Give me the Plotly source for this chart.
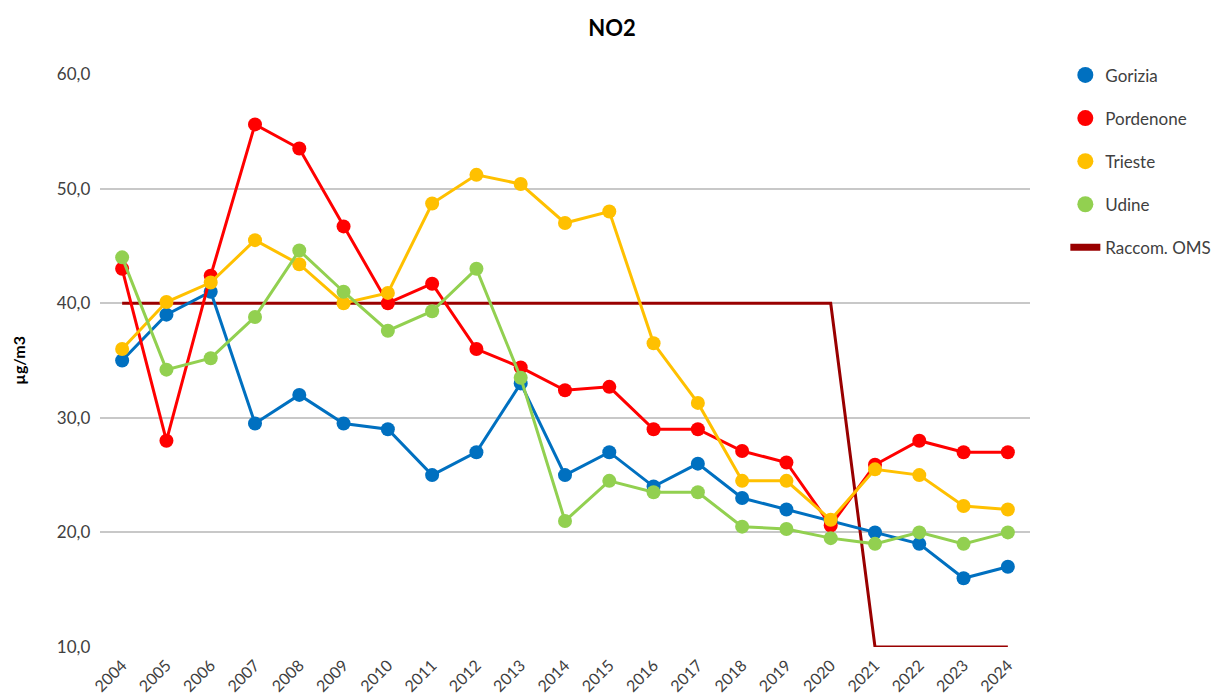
import plotly.graph_objects as go

years = [str(y) for y in range(2004, 2025)]
gorizia = [35, 39, 41, 29.5, 32, 29.5, 29, 25, 27, 33, 25, 27, 24, 26, 23, 22, 21, 20, 19, 16, 17]
pordenone = [43, 28, 42.4, 55.6, 53.5, 46.7, 40, 41.7, 36, 34.4, 32.4, 32.7, 29, 29, 27.1, 26.1, 20.6, 25.9, 28, 27, 27]
trieste = [36, 40.1, 41.8, 45.5, 43.4, 40, 40.9, 48.7, 51.2, 50.4, 47, 48, 36.5, 31.3, 24.5, 24.5, 21.1, 25.5, 25, 22.3, 22]
udine = [44, 34.2, 35.2, 38.8, 44.6, 41, 37.6, 39.3, 43, 33.5, 21, 24.5, 23.5, 23.5, 20.5, 20.3, 19.5, 19, 20, 19, 20]
oms = [40] * 17 + [10] * 4

series = [
    ("Gorizia", gorizia, "#0070C0"),
    ("Pordenone", pordenone, "#FF0000"),
    ("Trieste", trieste, "#FFC000"),
    ("Udine", udine, "#92D050"),
]
oms_name = "Raccom. OMS"
oms_color = "#990000"

FONT = "Lato, Open Sans, sans-serif"

fig = go.Figure()

fig.add_trace(go.Scatter(x=years, y=oms, mode="lines", line=dict(color=oms_color, width=3),
                         showlegend=False, hoverinfo="x+y"))
for name, vals, col in series:
    fig.add_trace(go.Scatter(x=years, y=vals, mode="lines+markers", name=name,
                             line=dict(color=col, width=3),
                             marker=dict(color=col, size=14),
                             showlegend=False))

# legend entries
for i, (name, vals, col) in enumerate(series):
    fig.add_trace(go.Scatter(x=[None], y=[None], mode="markers", name=name,
                             marker=dict(color=col, size=22), legendgroup=name,
                             legendrank=i + 1))
fig.add_trace(go.Scatter(x=[None], y=[None], mode="lines", name=oms_name,
                         line=dict(color=oms_color, width=7), legendgroup=oms_name,
                         legendrank=10))

# page body has an 8px offset; margins compensate so the plot lands at x 100..1030, y 74..647
fig.update_layout(
    width=1220, height=695,
    paper_bgcolor="white", plot_bgcolor="white",
    margin=dict(l=92, r=198, t=66, b=56),
    separators=",.",
    font=dict(family=FONT, color="#404040"),
    title=dict(text="<b>NO2</b>", x=604 / 1220, xref="container", y=1 - 20 / 695,
               yref="container", xanchor="center", yanchor="middle",
               font=dict(size=22, color="#000000", family=FONT)),
    legend=dict(x=1.038, y=1.029, xanchor="left", yanchor="top",
                font=dict(size=17, color="#404040", family=FONT), tracegroupgap=18,
                itemwidth=30),
    annotations=[dict(text="<b>µg/m3</b>", x=-0.088, y=0.5, xref="paper", yref="paper",
                      textangle=-90, showarrow=False, xanchor="center", yanchor="middle",
                      font=dict(size=16, color="#000000", family=FONT))],
)
fig.update_xaxes(type="category", range=[-0.5, 20.5], tickangle=-45, showgrid=False,
                 showline=False, ticks="", automargin=False, ticklabelstandoff=5,
                 tickfont=dict(size=16, color="#404040", family=FONT))
fig.update_yaxes(range=[10, 60], dtick=10, tickformat=".1f", showgrid=True,
                 gridcolor="#C8C8C8", gridwidth=2, zeroline=False, showline=False,
                 ticks="", automargin=False, ticksuffix="  ",
                 tickfont=dict(size=17, color="#404040", family=FONT))

fig.write_html("out.html")
